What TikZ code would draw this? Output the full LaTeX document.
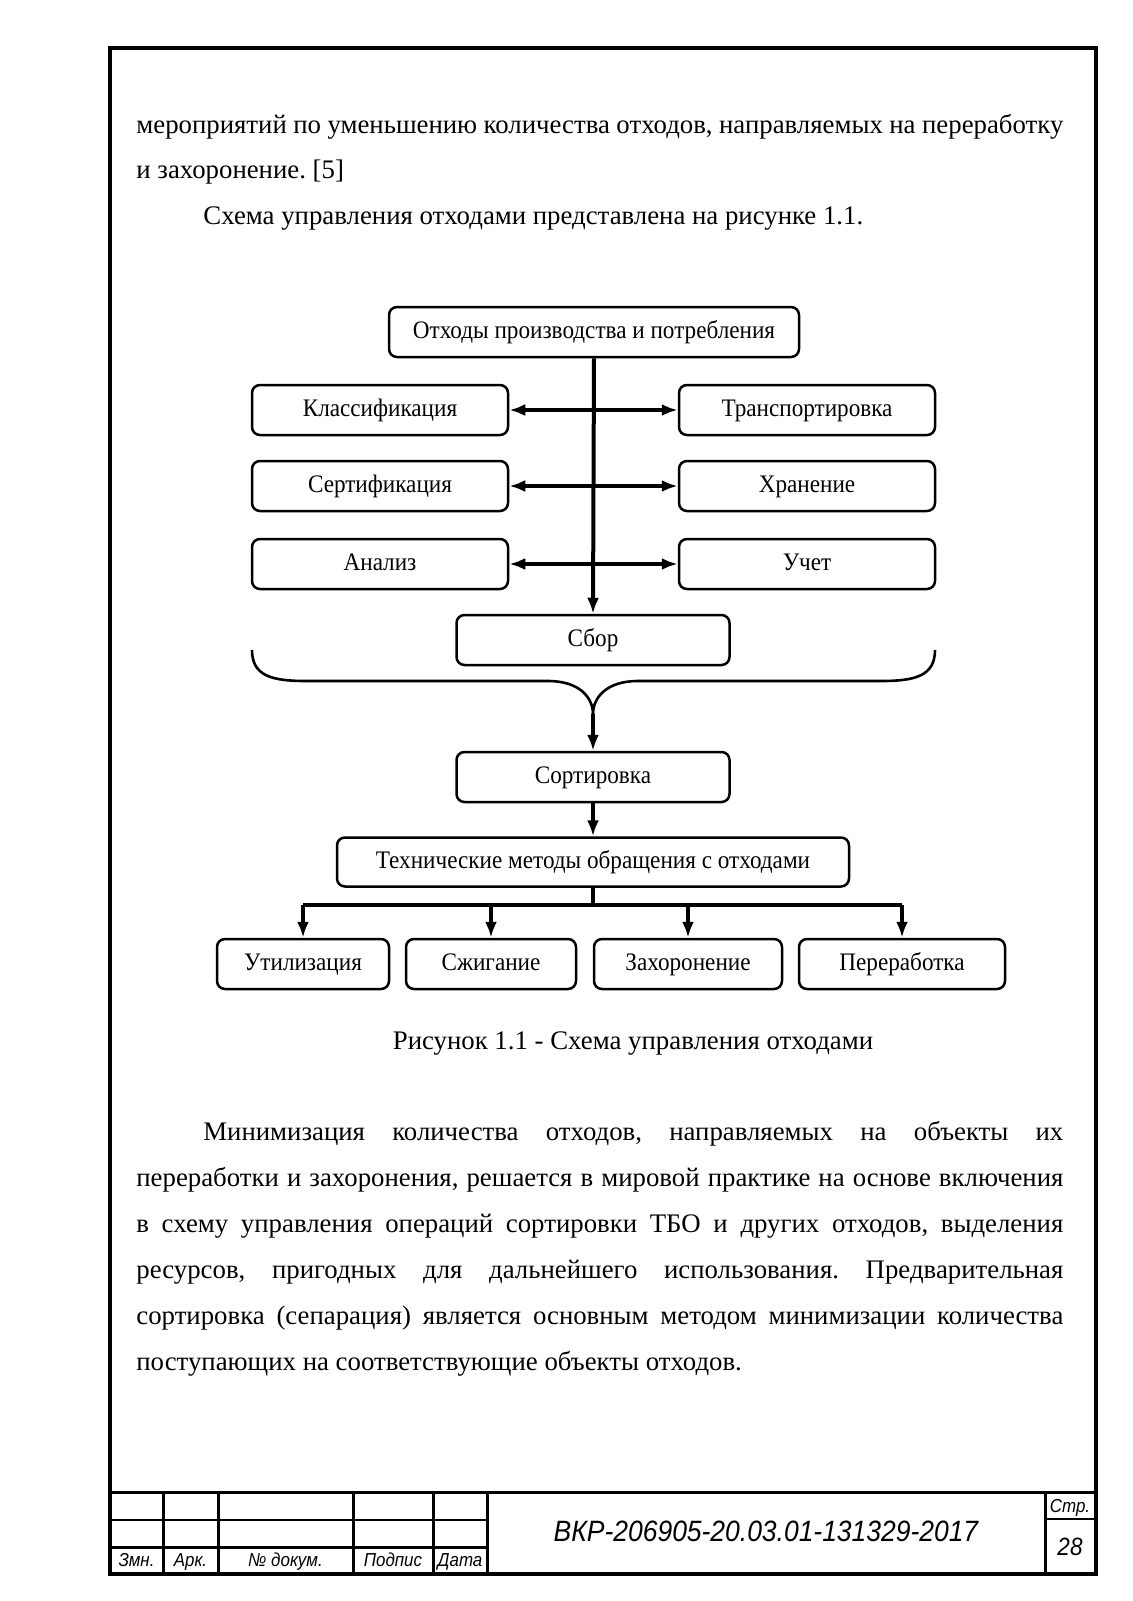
\documentclass[tikz,border=0pt]{standalone}
\usepackage{fontspec}
\setmainfont{Liberation Serif}
\newfontfamily\schemefont[FakeStretch=0.92]{Liberation Serif}
\newfontfamily\stampfont[FakeStretch=0.9]{Liberation Sans}
\usetikzlibrary{arrows.meta}

\tikzset{
  box/.style={draw, line width=1.25pt, rounded corners=4pt, minimum height=25pt,
    inner sep=0pt, text height=8.6pt, text depth=2.4pt,
    font=\schemefont\fontsize{12.6}{14}\selectfont},
  link/.style={line width=2pt, -{Latex[length=8pt,width=6pt]}},
  twoway/.style={line width=2pt, {Latex[length=8pt,width=6pt]}-{Latex[length=8pt,width=6pt]}},
  textline/.style={anchor=base west, inner sep=0pt, font=\fontsize{13.4}{15}\selectfont},
  stamp/.style={anchor=base, inner sep=0pt, font=\stampfont\itshape\fontsize{9.4}{10}\selectfont},
}

\begin{document}
\frenchspacing
\begin{tikzpicture}[x=0.5pt,y=-0.5pt]
  \useasboundingbox (0,0) rectangle (1132,1601);
  % Page frame
  \draw[line width=2pt] (110,48) rectangle (1096,1574);

  % Text above the scheme
  \node[textline] (t1) at (136,133) {\makebox[463.5pt][s]{мероприятий по уменьшению количества отходов, направляемых на переработку}};
  \node[textline] (t2) at (136,178) {и захоронение. [5]};
  \node[textline] (t3) at (203,224) {Схема управления отходами представлена на рисунке 1.1.};

  % Boxes of the scheme
  \node[box, minimum width=205pt] (src) at (594,332) {Отходы производства и потребления};
  \node[box, minimum width=128pt] (cls) at (380,410) {Классификация};
  \node[box, minimum width=128pt] (trn) at (807,410) {Транспортировка};
  \node[box, minimum width=128pt] (crt) at (380,486) {Сертификация};
  \node[box, minimum width=128pt] (stg) at (807,486) {Хранение};
  \node[box, minimum width=128pt] (anl) at (380,564) {Анализ};
  \node[box, minimum width=128pt] (acc) at (807,564) {Учет};
  \node[box, minimum width=136.5pt] (col) at (593,640) {Сбор};
  \node[box, minimum width=136.5pt] (sort) at (593,777) {Сортировка};
  \node[box, minimum width=256pt, minimum height=24.5pt] (tech) at (593,862) {Технические методы обращения с отходами};
  \node[box, minimum width=86pt] (util) at (303,964) {Утилизация};
  \node[box, minimum width=85pt] (burn) at (491,964) {Сжигание};
  \node[box, minimum width=94pt] (bury) at (688,964) {Захоронение};
  \node[box, minimum width=103pt] (recy) at (902,964) {Переработка};

  % Main line and side arrows
  \draw[link] (src.south) -- (col.north);
  \foreach \l/\r in {cls/trn, crt/stg, anl/acc}
    \draw[twoway] (\l.east) -- (\r.west);

  % Brace under the collection
  \coordinate (tip) at (593,714);
  \draw[line width=1.3pt] (252,650) .. controls (252,676) and (272,681) .. (306,681)
    -- (548,681) .. controls (580,681) and (593,698) .. (tip);
  \draw[line width=1.3pt] (935,650) .. controls (935,676) and (915,681) .. (881,681)
    -- (638,681) .. controls (606,681) and (593,698) .. (tip);
  \draw[link] (tip) -- (sort.north);
  \draw[link] (sort.south) -- (tech.north);

  % Fork to the methods
  \coordinate (fork) at (593,905);
  \draw[line width=2pt] (tech.south) -- (fork);
  \draw[line width=2pt] (util.north |- fork) -- (recy.north |- fork);
  \foreach \b in {util, burn, bury, recy}
    \draw[link] (\b.north |- fork) -- (\b.north);

  % Caption
  \node[anchor=base, inner sep=0pt, font=\fontsize{13.4}{15}\selectfont] (cap) at (633,1049) {Рисунок 1.1 - Схема управления отходами};

  % Text below the scheme
  \node[textline] (p1) at (203,1140) {\makebox[430pt][s]{Минимизация количества отходов, направляемых на объекты их}};
  \node[textline] (p2) at (136,1186) {\makebox[463.5pt][s]{переработки и захоронения, решается в мировой практике на основе включения}};
  \node[textline] (p3) at (136,1232) {\makebox[463.5pt][s]{в схему управления операций сортировки ТБО и других отходов, выделения}};
  \node[textline] (p4) at (136,1278) {\makebox[463.5pt][s]{ресурсов, пригодных для дальнейшего использования. Предварительная}};
  \node[textline] (p5) at (136,1324) {\makebox[463.5pt][s]{сортировка (сепарация) является основным методом минимизации количества}};
  \node[textline] (p6) at (136,1370) {поступающих на соответствующие объекты отходов.};

  % Title block
  \draw[line width=1.5pt] (110,1492) -- (1096,1492);
  \draw[line width=0.7pt] (110,1520) -- (487,1520);
  \draw[line width=1.5pt] (110,1547) -- (487,1547);
  \foreach \x in {163, 218, 353, 433, 487, 1045}
    \draw[line width=1.5pt] (\x,1492) -- (\x,1574);
  \draw[line width=0.7pt] (1045,1519) -- (1096,1519);
  \node[stamp] (zmn) at (136.5,1566) {Змн.};
  \node[stamp] (ark) at (190.5,1566) {Арк.};
  \node[stamp] (doc) at (285.5,1566) {№ докум.};
  \node[stamp] (sig) at (393,1566) {Подпис};
  \node[stamp] (dat) at (460,1566) {Дата};
  \node[stamp, font=\stampfont\itshape\fontsize{14.7}{16}\selectfont] (code) at (766,1541) {ВКР-206905-20.03.01-131329-2017};
  \node[stamp] (pg) at (1070,1512) {Стр.};
  \node[stamp, font=\stampfont\itshape\fontsize{12.5}{14}\selectfont] (pgn) at (1070,1555) {28};
\end{tikzpicture}
\end{document}
